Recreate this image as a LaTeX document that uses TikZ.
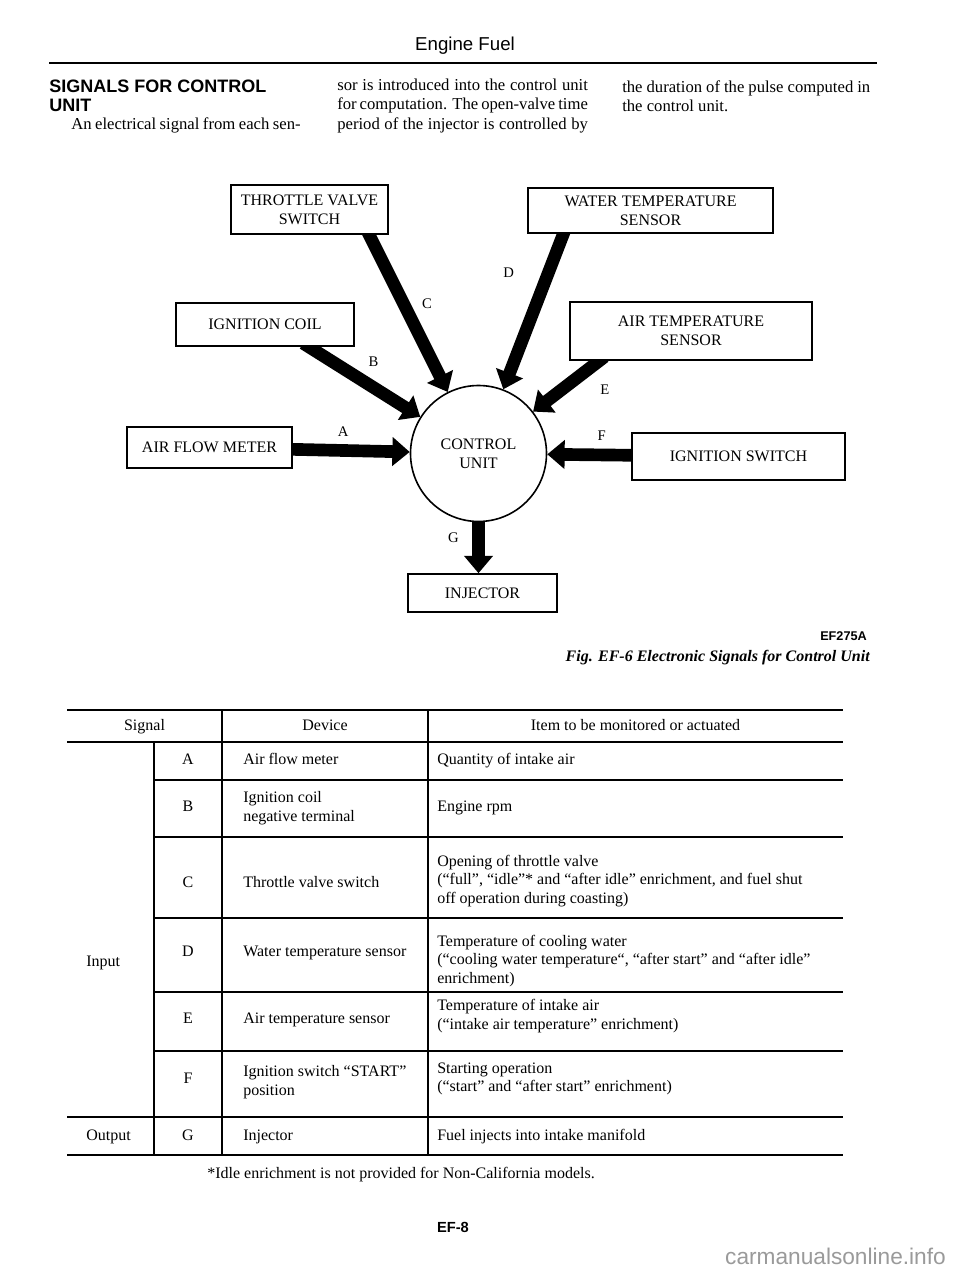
\documentclass[tikz,border=0pt]{standalone}
\usepackage{fontspec}
\setmainfont{Liberation Serif}
\setsansfont{Liberation Sans}
\usetikzlibrary{arrows.meta,backgrounds,positioning}
\definecolor{wmgray}{HTML}{9A9A9A}

\begin{document}
\begin{tikzpicture}[
    x=0.75pt,y=-0.75pt,
    box/.style={draw,line width=1.2pt,fill=white,inner sep=0pt,align=center,
                font=\fontsize{12}{14.25}\selectfont},
    unit/.style={draw,circle,line width=1.2pt,fill=white,minimum size=102pt,
                 inner sep=0pt,align=center,font=\fontsize{12}{14.25}\selectfont},
    sig/.style={line width=9.5pt,shorten <=-5pt,-{Triangle[width=21pt,length=13pt]}},
    tag/.style={font=\fontsize{11}{13}\selectfont,inner sep=1pt},
    body/.style={font=\fontsize{12.5}{14.6}\selectfont,align=left,anchor=west,inner sep=0pt},
    cell/.style={font=\fontsize{12}{14}\selectfont,align=left,anchor=west,inner sep=0pt},
    one/.style={font=\fontsize{12}{14}\selectfont,anchor=west,inner sep=0pt,
                text height=.7em,text depth=.22em},
    mid/.style={one,anchor=center},
    rule/.style={line width=0.9pt},
    heavy/.style={line width=2pt}
  ]
    \useasboundingbox (0,0) rectangle (960,1276);

    % page head
    \node[font=\sffamily\fontsize{14}{16}\selectfont] (title) at (465,46) {Engine Fuel};
    \draw[heavy] (49,63) -- (877,63);
    \node[font=\sffamily\bfseries\fontsize{13.5}{14}\selectfont,align=left,anchor=west,inner sep=0pt]
      (sect) at (49,96) {SIGNALS FOR CONTROL\\UNIT};
    \node[body] (cola) at (71,125) {\makebox[172pt][s]{An electrical signal from each sen-}};
    \node[body] (colb) at (337,106) {\makebox[188pt][s]{sor is introduced into the control unit}\\
      \makebox[188pt][s]{for computation. The open-valve time}\\
      \makebox[188pt][s]{period of the injector is controlled by}};
    \node[body] (colc) at (622,96.5) {\makebox[186pt][s]{the duration of the pulse computed in}\\the control unit.};

    % diagram
    \node[box,minimum width=117.8pt,minimum height=36.8pt] (tvs) at (309.5,209.5) {THROTTLE VALVE\\SWITCH};
    \node[box,minimum width=133.5pt,minimum height=32.3pt] (coil) at (265,324.5) {IGNITION COIL};
    \node[box,minimum width=123.8pt,minimum height=30.8pt] (afm) at (209.5,447.5) {AIR FLOW METER};
    \node[box,minimum width=183.8pt,minimum height=33.8pt] (wts) at (650.5,210.5) {WATER TEMPERATURE\\SENSOR};
    \node[box,minimum width=181.5pt,minimum height=43.5pt] (ats) at (691,331) {AIR TEMPERATURE\\SENSOR};
    \node[box,minimum width=159.8pt,minimum height=35.3pt] (igsw) at (738.5,456.5) {IGNITION SWITCH};
    \node[unit] (ecu) at (478.5,453.5) {CONTROL\\UNIT};
    \node[box,minimum width=111.8pt,minimum height=28.5pt] (inj) at (482.5,593) {INJECTOR};

    \begin{scope}[on background layer]
      \fill[white] (0,0) rectangle (960,1276);
      \draw[sig] (afm) -- node[tag,pos=.43,above=5pt] (la) {A} (ecu);
      \draw[sig] (coil.-27) -- node[tag,pos=.52,above=7pt,xshift=5pt] (lb) {B} (ecu);
      \draw[sig] (tvs.-23) -- node[tag,pos=.44,right=8pt] (lc) {C} (ecu);
      \draw[sig] (wts.-165) -- node[tag,pos=.25,left=20pt] (ld) {D} (ecu);
      \draw[sig] (ats.-162) -- node[tag,pos=.3,below right=1pt and 10pt] (le) {E} (ecu);
      \draw[sig] (igsw) -- node[tag,pos=.35,above=5pt] (lf) {F} (ecu);
      \draw[sig] (ecu) -- node[tag,pos=.31,left=9pt] (lg) {G} (ecu |- inj.north);
    \end{scope}

    \node[font=\sffamily\bfseries\fontsize{9.5}{11}\selectfont,anchor=east,inner sep=0pt] (figid) at (867,636) {EF275A};
    \node[font=\bfseries\itshape\fontsize{12}{14}\selectfont,anchor=east,inner sep=0pt] (caption) at (870,658) {Fig. EF-6 Electronic Signals for Control Unit};

    % table
    \draw[heavy] (67,710) -- (843,710);
    \draw[rule] (67,742) -- (843,742);
    \foreach \yy in {780,837,918,992,1051}
      \draw[rule] (154,\yy) -- (843,\yy);
    \draw[rule] (67,1117) -- (843,1117);
    \draw[heavy] (67,1155) -- (843,1155);
    \draw[rule] (154,742) -- (154,1155);
    \draw[rule] (222,710) -- (222,1155);
    \draw[rule] (428,710) -- (428,1155);

    \node[mid] (hsig) at (144.5,727) {Signal};
    \node[mid] (hdev) at (325,727) {Device};
    \node[mid] (hitem) at (635.5,727) {Item to be monitored or actuated};

    \node[one] (input) at (86,963) {Input};
    \node[one] (output) at (86,1137) {Output};

    \node[mid] (sa) at (188,761) {A};
    \node[mid] (sb) at (188,808) {B};
    \node[mid] (sc) at (188,884) {C};
    \node[mid] (sd) at (188,953) {D};
    \node[mid] (se) at (188,1020) {E};
    \node[mid] (sf) at (188,1080) {F};
    \node[mid] (sg) at (188,1137) {G};

    \node[one] (da) at (243,761) {Air flow meter};
    \node[cell] (db) at (243,808) {Ignition coil\\negative terminal};
    \node[one] (dc) at (243,884) {Throttle valve switch};
    \node[one] (dd) at (243,953) {Water temperature sensor};
    \node[one] (de) at (243,1020) {Air temperature sensor};
    \node[cell] (df) at (243,1082) {Ignition switch “START”\\position};
    \node[one] (dg) at (243,1137) {Injector};

    \node[one] (ia) at (437,761) {Quantity of intake air};
    \node[one] (ib) at (437,808) {Engine rpm};
    \node[cell] (ic) at (437,881) {Opening of throttle valve\\(“full”, “idle”* and “after idle” enrichment, and fuel shut\\off operation during coasting)};
    \node[cell] (id) at (437,961) {Temperature of cooling water\\(“cooling water temperature“, “after start” and “after idle”\\enrichment)};
    \node[cell] (ie) at (437,1016) {Temperature of intake air\\(“intake air temperature” enrichment)};
    \node[cell] (if) at (437,1079) {Starting operation\\(“start” and “after start” enrichment)};
    \node[one] (ig) at (437,1137) {Fuel injects into intake manifold};

    \node[one] (note) at (207,1175) {*Idle enrichment is not provided for Non-California models.};
    \node[font=\sffamily\bfseries\fontsize{11}{13}\selectfont] (pageno) at (453,1227) {EF-8};
    \node[font=\sffamily\fontsize{17}{20}\selectfont,text=wmgray,anchor=east,inner sep=0pt] (wm) at (946,1256) {carmanualsonline.info};
  \end{tikzpicture}
\end{document}
